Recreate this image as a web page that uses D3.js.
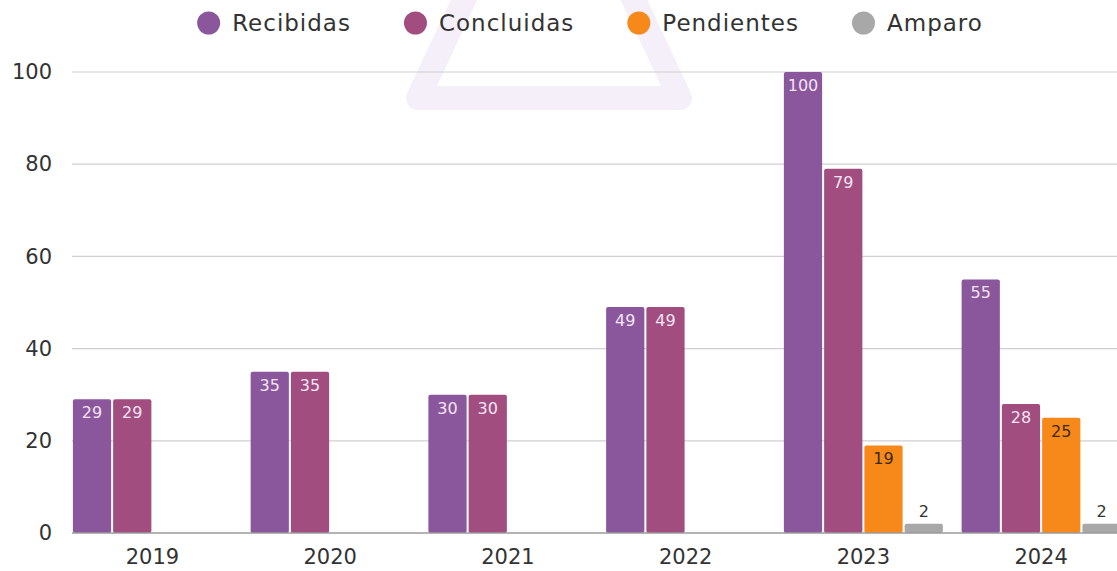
<!DOCTYPE html>
<html>
<head>
<meta charset="utf-8">
<script src="https://cdn.jsdelivr.net/npm/d3@7"></script>
<style>
  body { margin: 0; background: #fff; }
  svg { display: block; font-family: "DejaVu Sans", sans-serif; }
</style>
</head>
<body>
<svg width="1117" height="571"></svg>
<script>
// data
var years = ["2019", "2020", "2021", "2022", "2023", "2024"];
var seriesNames = ["Recibidas", "Concluidas", "Pendientes", "Amparo"];
var recibidas = [29, 35, 30, 49, 100, 55];
var concluidas = [29, 35, 30, 49, 79, 28];
var pendientes = [0, 0, 0, 0, 19, 25];
var amparo = [0, 0, 0, 0, 2, 2];
var yTicks = [0, 20, 40, 60, 80, 100];

var colors = ["#8a579d", "#a14d7f", "#f7891b", "#a8a8a8"];
var labelColors = ["#f4e4f4", "#f4e4f4", "#3a2a10", "#333"];

var svg = d3.select("svg"),
	width = +svg.attr("width"),
	height = +svg.attr("height");

var margin = {left: 72, top: 72, bottom: 533};

var values = [recibidas, concluidas, pendientes, amparo];
var rows = years.map(function(y, i) {
	return {year: y, vals: seriesNames.map(function(s, k) { return {key: s, k: k, v: values[k][i]}; })};
});

// faint watermark behind the chart
svg.append("path")
	.attr("d", "M418,98 L680,98 L549,-181 Z")
	.attr("fill", "none")
	.attr("stroke", "#f4eff8")
	.attr("stroke-width", 24)
	.attr("stroke-linejoin", "round");

var y = d3.scaleLinear().domain([0, 100]).range([margin.bottom, margin.top]);

var x0 = d3.scaleBand()
	.domain(years)
	.range([64, 1129.5])
	.paddingInner(0.1055)
	.paddingOuter(0.05);

var x1 = d3.scaleBand()
	.domain(seriesNames)
	.range([0, x0.bandwidth()])
	.paddingInner(0.05);

// gridlines
svg.append("g")
	.selectAll("line")
	.data(yTicks.filter(function(d) { return d > 0; }))
	.enter().append("line")
	.attr("x1", margin.left)
	.attr("x2", width)
	.attr("y1", function(d) { return y(d); })
	.attr("y2", function(d) { return y(d); })
	.attr("stroke", "#d0d0d0")
	.attr("stroke-width", 1.2);

// y axis labels
var yAxis = svg.append("g")
	.attr("transform", "translate(52,0)")
	.call(d3.axisLeft(y).tickValues(yTicks).tickSize(0).tickPadding(0));
yAxis.select(".domain").remove();
yAxis.selectAll("text")
	.attr("font-size", 21)
	.attr("font-family", "DejaVu Sans, sans-serif")
	.attr("fill", "#333");

// bars
var groups = svg.append("g")
	.selectAll("g")
	.data(rows)
	.enter().append("g")
	.attr("transform", function(d) { return "translate(" + x0(d.year) + ",0)"; });

groups.selectAll("rect")
	.data(function(d) { return d.vals.filter(function(e) { return e.v > 0; }); })
	.enter().append("rect")
	.attr("x", function(d) { return x1(d.key); })
	.attr("y", function(d) { return y(d.v); })
	.attr("width", x1.bandwidth())
	.attr("height", function(d) { return y(0) - y(d.v); })
	.attr("rx", 2)
	.attr("fill", function(d) { return colors[d.k]; });

groups.selectAll("text")
	.data(function(d) { return d.vals.filter(function(e) { return e.v > 0; }); })
	.enter().append("text")
	.attr("x", function(d) { return x1(d.key) + x1.bandwidth() / 2; })
	.attr("y", function(d) {
		var h = y(0) - y(d.v);
		return h < 30 ? y(d.v) - 7 : y(d.v) + 19;
	})
	.attr("text-anchor", "middle")
	.attr("font-size", 16)
	.attr("fill", function(d) {
		var h = y(0) - y(d.v);
		return h < 30 ? "#333" : labelColors[d.k];
	})
	.text(function(d) { return d.v; });

// baseline
svg.append("line")
	.attr("x1", margin.left)
	.attr("x2", width)
	.attr("y1", y(0))
	.attr("y2", y(0))
	.attr("stroke", "#9a9a9a")
	.attr("stroke-width", 1.5);

// x axis labels
var xAxis = svg.append("g")
	.attr("transform", "translate(0," + (y(0) + 12) + ")")
	.call(d3.axisBottom(x0).tickSize(0).tickPadding(4));
xAxis.select(".domain").remove();
xAxis.selectAll("text")
	.attr("font-size", 21)
	.attr("font-family", "DejaVu Sans, sans-serif")
	.attr("fill", "#333");

// legend
var legend = svg.append("g").attr("class", "legend");
var items = legend.selectAll("g")
	.data(seriesNames)
	.enter().append("g");
items.append("circle")
	.attr("r", 11.5)
	.attr("cx", 11.5)
	.attr("cy", 23)
	.attr("fill", function(d, i) { return colors[i]; });
items.append("text")
	.attr("x", 35)
	.attr("y", 31)
	.attr("font-size", 23)
	.attr("letter-spacing", 1)
	.attr("fill", "#333")
	.text(function(d) { return d; });

var pos = 0, offsets = [];
items.each(function(d, i) {
	offsets.push(pos);
	pos += 35 + this.querySelector("text").getComputedTextLength() + 53;
});
var totalW = pos - 53;
var startX = 590 - totalW / 2;
items.attr("transform", function(d, i) { return "translate(" + (startX + offsets[i]) + ",0)"; });
</script>
</body>
</html>
